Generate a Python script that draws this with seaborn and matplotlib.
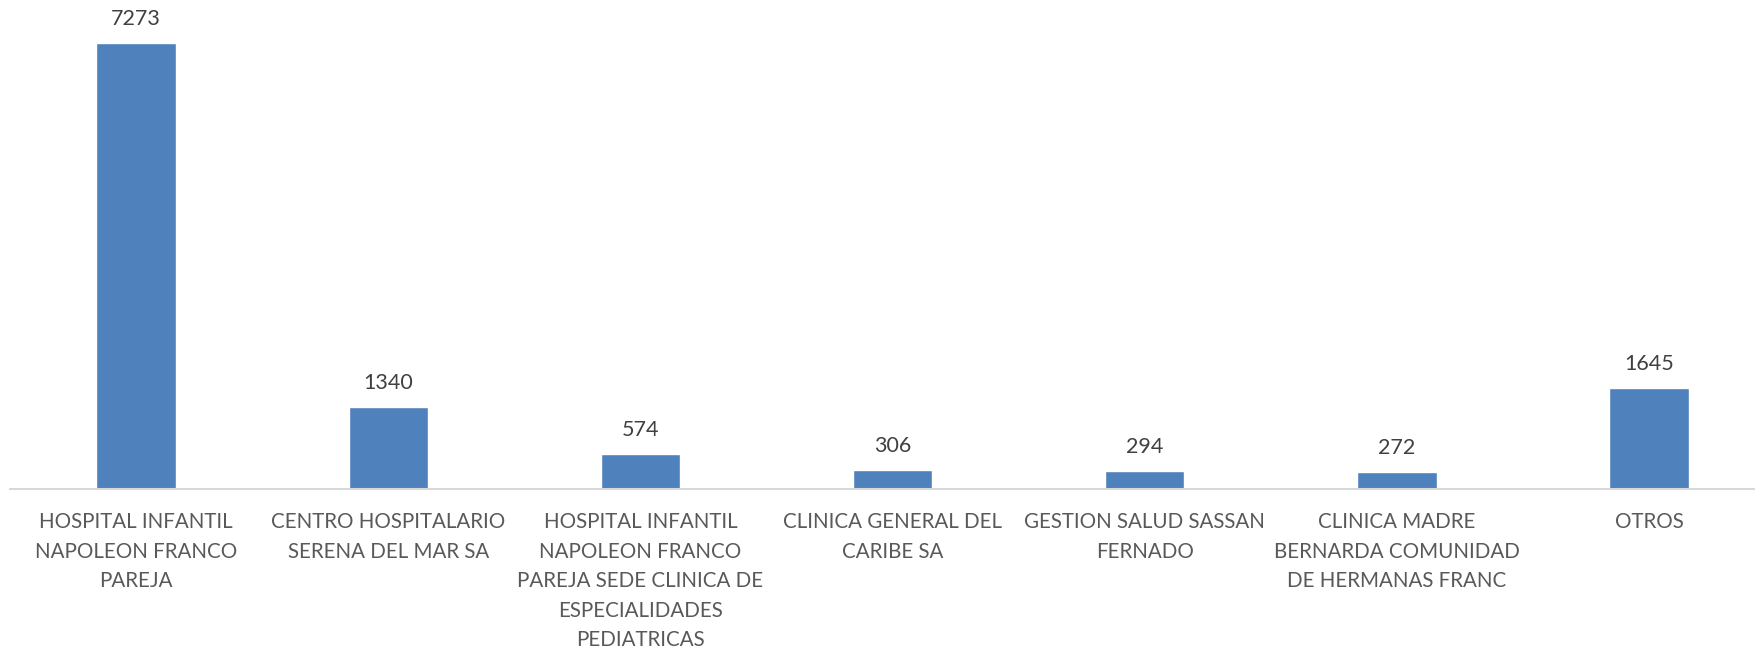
import matplotlib
matplotlib.use("Agg")
import matplotlib.pyplot as plt
import matplotlib.transforms as mtransforms
import seaborn as sns
import pandas as pd

sns.set_style("white")
plt.rcParams["font.family"] = ["Lato", "DejaVu Sans"]

# Data
categories = [
    "HOSPITAL INFANTIL\nNAPOLEON FRANCO\nPAREJA",
    "CENTRO HOSPITALARIO\nSERENA DEL MAR SA",
    "HOSPITAL INFANTIL\nNAPOLEON FRANCO\nPAREJA SEDE CLINICA DE\nESPECIALIDADES\nPEDIATRICAS",
    "CLINICA GENERAL DEL\nCARIBE SA",
    "GESTION SALUD SASSAN\nFERNADO",
    "CLINICA MADRE\nBERNARDA COMUNIDAD\nDE HERMANAS FRANC",
    "OTROS",
]
values = [7273, 1340, 574, 306, 294, 272, 1645]

df = pd.DataFrame({"entidad": categories, "total": values})

fig = plt.figure(figsize=(17.55, 6.47), dpi=100)
ax = fig.add_axes([10 / 1755, (647 - 489) / 647, 1745 / 1755, 489 / 647])

sns.barplot(
    data=df,
    x="entidad",
    y="total",
    color="#4f81bd",
    saturation=1,
    width=0.315,
    ax=ax,
)

ax.set_xlim(-0.5, 6.42)
ax.set_ylim(0, 489 * 16.31)

ax.bar_label(ax.containers[0], padding=10, fontsize=15.5, color="#404040")

for side in ["top", "right", "left"]:
    ax.spines[side].set_visible(False)
ax.spines["bottom"].set_color("#d9d9d9")
ax.spines["bottom"].set_linewidth(1.5)

ax.set_yticks([])
ax.set_xlabel("")
ax.set_ylabel("")
ax.tick_params(axis="x", length=0, labelbottom=False)

# category labels with wider line spacing
trans = mtransforms.blended_transform_factory(ax.transData, ax.transAxes)
offset = mtransforms.ScaledTranslation(0, -23 / 100, fig.dpi_scale_trans)
for i, name in enumerate(categories):
    ax.text(
        i, 0, name,
        transform=trans + offset,
        ha="center", va="top",
        fontsize=14.8, color="#595959",
        linespacing=1.6,
    )

fig.savefig("out.png", dpi=100)
plt.close(fig)
